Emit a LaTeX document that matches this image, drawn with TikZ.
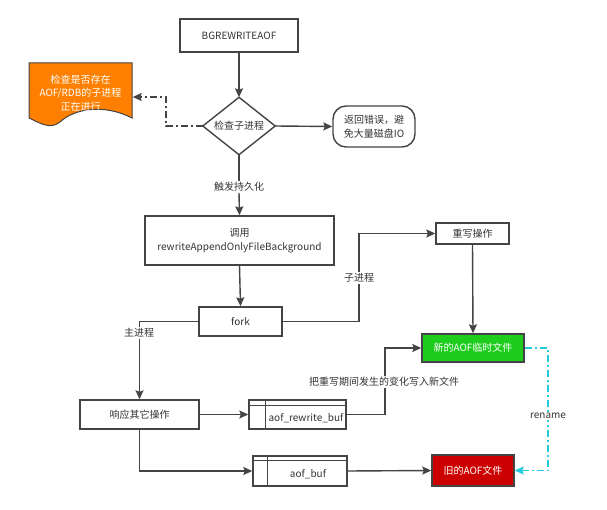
\documentclass[tikz,border=0pt]{standalone}
\usepackage{fontspec}
\setmainfont{Noto Sans CJK SC}
\usetikzlibrary{arrows.meta,calc}
\definecolor{ln}{HTML}{444444}
\definecolor{tx}{HTML}{333333}
\definecolor{org}{HTML}{FF8000}
\definecolor{grn}{HTML}{1ECC1E}
\definecolor{rd}{HTML}{CC0000}
\definecolor{cyn}{HTML}{22CCDD}
\tikzset{
  box/.style={draw=ln, line width=1.4pt, rectangle, inner sep=0pt, align=center, text=tx, font=\fontsize{10}{13}\selectfont},
  lbl/.style={fill=white, inner sep=1pt, text=tx, font=\fontsize{10}{13}\selectfont},
  tip/.style={-{Stealth[length=9pt,width=8pt,inset=1.5pt]}},
  conn/.style={draw=ln, line width=1.4pt, tip},
  plain/.style={draw=ln, line width=1.4pt},
  dashdot/.style={dash pattern=on 7pt off 3pt on 2pt off 3pt},
}
\begin{document}
\begin{tikzpicture}[x=1pt,y=-1pt]
\useasboundingbox (0,0) rectangle (607,510);
% nodes
\node[box, minimum width=118pt, minimum height=33pt] (bg) at (239,35.5) {BGREWRITEAOF};
\node[box, draw=none, minimum width=71pt, minimum height=56pt] (dia) at (239,126) {检查子进程};
\draw[ln, line width=1.4pt, line join=miter] (dia.north) -- (dia.east) -- (dia.south) -- (dia.west) -- cycle;
% document shape
\fill[org, draw=ln, line width=1pt] (29,63) -- (132,63) -- (132,118) .. controls (105,104) and (75,108) .. (60,122) .. controls (50,130) and (40,123) .. (29,118) -- cycle;
\node[box, draw=none, text=white, minimum width=103pt, minimum height=50pt, font=\fontsize{10}{13.5}\selectfont] (doc) at (80.5,93) {检查是否存在\\AOF/RDB的子进程\\正在进行};
\node[box, rounded corners=13pt, minimum width=82pt, minimum height=41pt, font=\fontsize{10}{13.5}\selectfont] (ret) at (374,126.5) {返回错误，避\\免大量磁盘IO};
\node[lbl] (trig) at (239,187) {触发持久化};
\node[box, minimum width=189pt, minimum height=49pt, font=\fontsize{10}{14}\selectfont] (call) at (239.5,240.5) {调用\\rewriteAppendOnlyFileBackground};
\node[box, minimum width=83pt, minimum height=29pt] (fork) at (240.5,321.5) {fork};
\node[box, minimum width=73pt, minimum height=21pt] (rw) at (472.5,233.5) {重写操作};
\node[box, fill=grn, text=white, minimum width=102pt, minimum height=28pt] (new) at (473,348) {新的AOF临时文件};
\node[box, minimum width=119pt, minimum height=29pt] (resp) at (139.5,414.5) {响应其它操作};
\node[box, minimum width=97pt, minimum height=29pt] (rbuf) at (297.5,414.5) {};
\node[text=tx, inner sep=0pt, font=\fontsize{10}{13}\selectfont] (rbtxt) at (306,418) {aof\_rewrite\_buf};
\draw[ln, line width=1.1pt] ($(rbuf.north west)+(0,-6pt)$) -- ($(rbuf.north east)+(0,-6pt)$);
\draw[ln, line width=1.1pt] ($(rbuf.north west)+(17pt,0)$) -- ($(rbuf.south west)+(17pt,0)$);
\node[box, minimum width=94pt, minimum height=30pt] (abuf) at (300,471) {};
\node[text=tx, inner sep=0pt, font=\fontsize{10}{13}\selectfont] (abtxt) at (308,474) {aof\_buf};
\draw[ln, line width=1.1pt] ($(abuf.north west)+(0,-5pt)$) -- ($(abuf.north east)+(0,-5pt)$);
\draw[ln, line width=1.1pt] ($(abuf.north west)+(15pt,0)$) -- ($(abuf.south west)+(15pt,0)$);
\node[box, fill=rd, text=white, minimum width=82pt, minimum height=31pt] (old) at (473,470.5) {旧的AOF文件};
% helper coordinates
\coordinate (c1) at (166,97);
\coordinate (cz) at (359,280);
\coordinate (cw) at (385,380);
\coordinate (cr) at (548,410);
% connectors
\draw[conn] (bg.south) -- (dia.north);
\draw[conn] (dia.east) -- (ret.west);
\draw[conn, dashdot] (dia.west) -| (c1) -- (c1 -| doc.east);
\draw[plain] (dia.south) -- (trig.north);
\draw[conn] (trig.south) -- (call.north);
\draw[conn] (call.south) -- (fork.north);
\draw[conn] (fork.east) -| (cz) |- (rw.west);
\node[lbl] (zj) at (359,278) {子进程};
\draw[conn] (rw.south) -- (new.north);
\draw[conn] (fork.west) -| (resp.north);
\node[lbl] (zhu) at (139,333) {主进程};
\draw[conn] (resp.east) -- (rbuf.west);
\draw[conn] (rbuf.east) -| (cw) |- (new.west);
\node[lbl] (chg) at (384,382) {把重写期间发生的变化写入新文件};
\draw[conn] (resp.south) |- (abuf.west);
\draw[conn] (abuf.east) -- (old.west);
\draw[draw=cyn, line width=1.4pt, dashdot, -{Stealth[length=9pt,width=8pt,inset=1.5pt,fill=cyn]}] (new.east) -| (cr) |- (old.east);
\node[lbl] (ren) at (548,416) {rename};
\end{tikzpicture}
\end{document}
